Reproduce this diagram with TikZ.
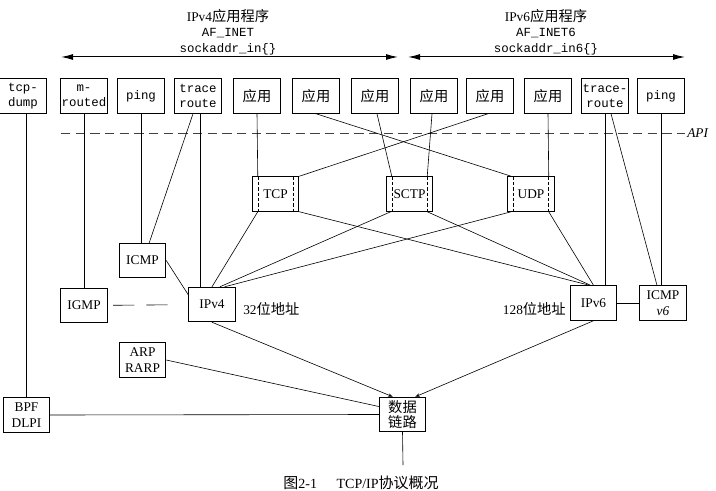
\documentclass[tikz,border=0pt]{standalone}
\usepackage{fontspec}
\setmainfont{Liberation Serif}
\setmonofont{Liberation Mono}
\newfontfamily\cjk[Scale=1.07]{Noto Sans CJK SC}
\newcommand{\zh}[1]{{\cjk #1}}
\newcommand{\tcode}[1]{{\fontsize{9.3}{11.5}\selectfont\ttfamily #1}}
\usetikzlibrary{arrows.meta,calc,positioning}
\tikzset{%
         box/.style = { draw, line width=0.6pt, minimum width=35pt, minimum height=26pt, inner sep=0.5pt, align=center, font=\fontsize{10}{11.5}\selectfont },
       ttbox/.style = { box, font=\fontsize{9.3}{11.2}\selectfont\ttfamily },
   transport/.style = { box, path picture={
                          \draw[line width=0.4pt, dash pattern=on 2.5pt off 1.5pt]
                            ([xshift=4.5pt]path picture bounding box.north west) -- ([xshift=4.5pt]path picture bounding box.south west)
                            ([xshift=-4.5pt]path picture bounding box.north east) -- ([xshift=-4.5pt]path picture bounding box.south east);} },
        head/.style = { align=center, inner sep=0pt, font=\fontsize{10}{11.5}\selectfont },
        link/.style = { line width=0.45pt },
    famspan/.style = { line width=0.75pt, {Latex[length=9pt,width=4.5pt]}-{Latex[length=9pt,width=4.5pt]} },
     apiline/.style = { line width=0.45pt, black!75, dash pattern=on 7pt off 4pt },
     tolink/.style = { link, -{Stealth[length=3.5pt,width=2.5pt]} },
        note/.style = { inner sep=0pt, font=\fontsize{10}{12}\selectfont }
}

\begin{document}
\begin{tikzpicture}[x=0.75pt, y=-0.75pt]
  \useasboundingbox (0,0) rectangle (716,491);

  \node[head] (hd4) at (228,32) {IPv4\zh{应用程序}\\\tcode{AF\_INET}\\\tcode{sockaddr\_in\{\}}};
  \node[head] (hd6) at (546,32) {IPv6\zh{应用程序}\\\tcode{AF\_INET6}\\\tcode{sockaddr\_in6\{\}}};
  \coordinate (v4l) at (61,57);
  \coordinate (v4r) at (398,57);
  \coordinate (v6l) at (408,57);
  \coordinate (v6r) at (685,57);
  \draw[famspan] (v4l) -- (v4r);
  \draw[famspan] (v6l) -- (v6r);

  \node[ttbox] (tcpdump) at (23,96) {tcp-\\dump};
  \node[ttbox] (mrouted) at (84,96) {m-\\routed};
  \node[ttbox] (ping4) at (141,96) {ping};
  \node[ttbox] (trace4) at (198,96) {trace\\route};
  \node[box] (app1) at (257,96) {\zh{应用}};
  \node[box] (app2) at (316,96) {\zh{应用}};
  \node[box] (app3) at (375,96) {\zh{应用}};
  \node[box] (app4) at (434,96) {\zh{应用}};
  \node[box] (app5) at (490,96) {\zh{应用}};
  \node[box] (app6) at (548,96) {\zh{应用}};
  \node[ttbox] (trace6) at (605,96) {trace-\\route};
  \node[ttbox] (ping6) at (661,96) {ping};

  \coordinate (apil) at (61,133);
  \coordinate (apir) at (685,133);
  \draw[apiline] (apil) -- (apir);
  \node[note, anchor=west, font=\fontsize{10}{12}\selectfont\itshape] (apitext) at (687,133) {API};

  \node[transport] (tcp) at (275.5,194) {TCP};
  \node[transport] (sctp) at (409.5,194) {SCTP};
  \node[transport] (udp) at (531,194) {UDP};

  \node[box] (icmp4) at (142.5,260.5) {ICMP};
  \node[box] (igmp) at (84,305.5) {IGMP};
  \node[box] (ipv4) at (212,304.5) {IPv4};
  \node[box] (ipv6) at (593.5,303) {IPv6};
  \node[box, right=16.5pt of ipv6] (icmp6) {ICMP\\\textit{v6}};
  \node[note, anchor=west] (addr4) at (243,309) {32\zh{位地址}};
  \node[note, anchor=east] (addr6) at (566,309) {128\zh{位地址}};

  \node[box] (arp) at (142.5,360) {ARP\\RARP};
  \node[box] (bpf) at (26.5,415) {BPF\\DLPI};
  \node[box] (dlink) at (402.5,414.5) {\zh{数据}\\\zh{链路}};
  \coordinate (dlout) at (403,465);

  \draw[link] (bpf.north |- tcpdump.south) -- (bpf.north);
  \draw[link] (mrouted.south) -- (mrouted.south |- igmp.north);
  \draw[link] (ping4.south) -- (ping4.south |- icmp4.north);
  \draw[link] ($(trace4.south)+(-5,0)$) -- ($(icmp4.north east)+(-17,0)$);
  \draw[link] ($(trace4.south)+(2,0)$) coordinate (t4) -- (t4 |- ipv4.north);
  \draw[link] (app1.south) -- ($(tcp.north west)+(6,0)$);
  \draw[link] (app2.south) -- ($(udp.north west)+(4,0)$);
  \draw[link] ($(app3.south)+(2,0)$) -- ($(sctp.north west)+(6,0)$);
  \draw[link] ($(app4.south)+(-2,0)$) -- ($(sctp.north east)+(-6,0)$);
  \draw[link] ($(app5.south)+(-2,0)$) -- (tcp.north east);
  \draw[link] (app6.south) -- ($(udp.north east)+(-6,0)$);
  \draw[link] (trace6.south) -- (trace6.south |- ipv6.north);
  \draw[link] ($(trace6.south)+(6,0)$) -- ($(icmp6.north)+(-6,0)$);
  \draw[link] (ping6.south) -- (ping6.south |- icmp6.north);

  \draw[link] ($(tcp.south west)+(6,0)$) -- (ipv4.north);
  \draw[link] (tcp.south east) -- ($(ipv6.north)+(-4,0)$);
  \draw[link] ($(sctp.south west)+(5,0)$) -- ($(ipv4.north)+(8,0)$);
  \draw[link] ($(sctp.south east)+(-6,0)$) -- ($(ipv6.north)+(-3,0)$);
  \draw[link] ($(udp.south west)+(4,0)$) -- ($(ipv4.north east)+(-11,0)$);
  \draw[link] ($(udp.south east)+(-6,0)$) -- (ipv6.north);

  \draw[link] (icmp4.east) -- ($(ipv4.north west)+(0,8)$);
  \draw[link, dash pattern=on 16pt off 9pt, shorten <=4pt, shorten >=12pt] (igmp) -- (ipv4);
  \draw[link] (ipv6) -- (icmp6);

  \draw[tolink] (ipv4.south) -- ($(dlink.north west)+(14,0)$);
  \draw[tolink] (ipv6.south) -- ($(dlink.north east)+(-11,0)$);
  \draw[link] (arp.east) -- ($(dlink.west)+(0,-8)$);
  \draw[link] (bpf.east) -- (dlink.west);
  \draw[link] (dlink.south) -- (dlout);

  \node[note, font=\fontsize{10.5}{12}\selectfont] (caption) at (361,483) {\zh{图}2-1\hspace{1.4em}TCP/IP\zh{协议概况}};
\end{tikzpicture}
\end{document}
